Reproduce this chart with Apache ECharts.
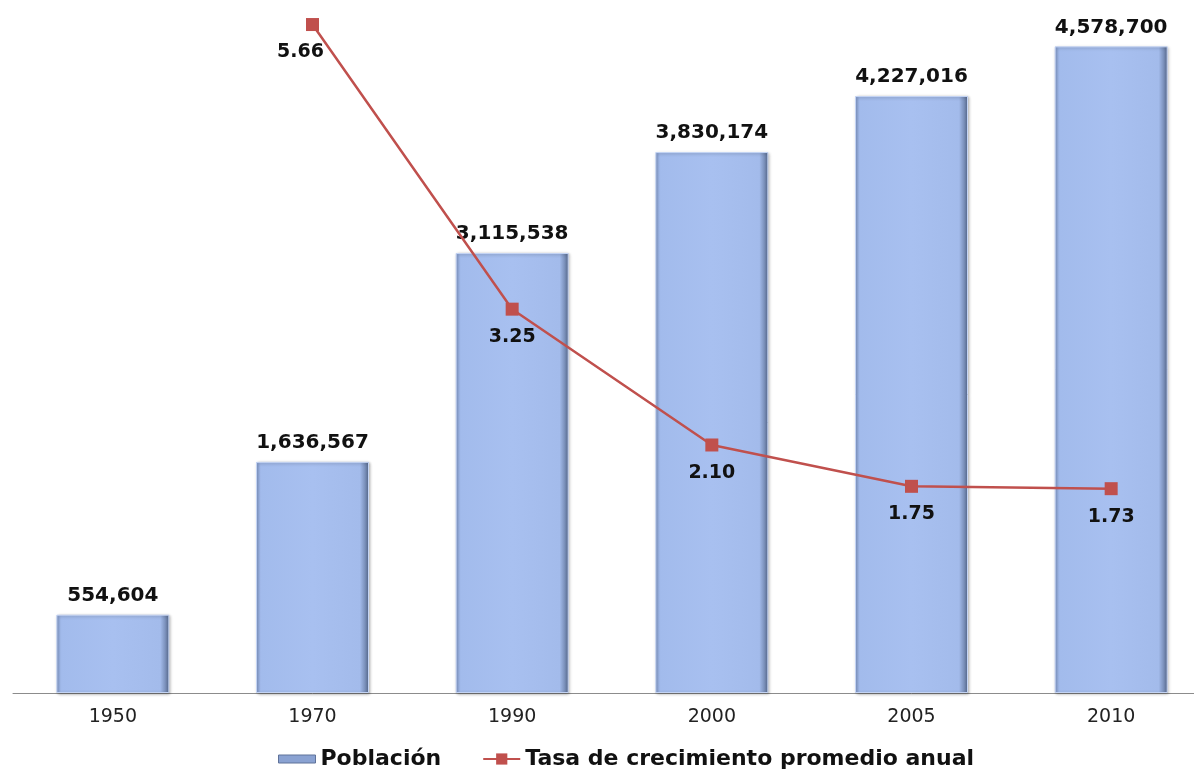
<!DOCTYPE html>
<html>
<head>
<meta charset="utf-8">
<script src="https://cdn.jsdelivr.net/npm/echarts@6/dist/echarts.min.js"></script>
<style>
  html, body { margin: 0; padding: 0; background: #fff; overflow: hidden; }
  /* el área de dibujo sobresale a la derecha, como en la figura original */
  #chart { width: 1211px; height: 770px; }
</style>
</head>
<body>
<div id="chart"></div>
<script>
// años del censo
const years = ["1950", "1970", "1990", "2000", "2005", "2010"];
// población total
const poblacion = [554604, 1636567, 3115538, 3830174, 4227016, 4578700];
// tasa de crecimiento promedio anual (sin dato para 1950)
const tasa = [null, 5.66, 3.25, 2.10, 1.75, 1.73];

const chart = echarts.init(document.getElementById("chart"));

// relleno de las barras con efecto bisel
const barColor = new echarts.graphic.LinearGradient(0, 0, 1, 0, [
  { offset: 0, color: "#8299c8" },
  { offset: 0.04, color: "#a2bbec" },
  { offset: 0.5, color: "#a8c0f0" },
  { offset: 0.92, color: "#a3bbeb" },
  { offset: 0.96, color: "#7f95c0" },
  { offset: 1, color: "#55678a" }
]);

const option = {
  animation: false,
  textStyle: { fontFamily: "DejaVu Sans, sans-serif" },
  grid: { left: 13, right: 0, top: 8, bottom: 77 },
  legend: {
    top: 743,
    left: 273,
    itemGap: 41,
    itemWidth: 37,
    itemHeight: 14,
    textStyle: { fontSize: 22, fontWeight: "bold", color: "#111" },
    data: [
      {
        name: "Población",
        // rectángulo delgado centrado en la caja de la leyenda
        icon: "path://M0,0 M0,3 L37,3 L37,11 L0,11 Z M0,14",
        itemStyle: { color: "#8aa2d2", borderColor: "#5f7299", borderWidth: 1 }
      },
      { name: "Tasa de crecimiento promedio anual" }
    ]
  },
  xAxis: {
    type: "category",
    data: years,
    boundaryGap: true,
    axisLine: { show: true, lineStyle: { color: "#8c8c8c", width: 1 } },
    axisTick: { show: false },
    axisLabel: { color: "#222", fontSize: 19, margin: 15 }
  },
  yAxis: [
    {
      type: "value",
      min: 0,
      max: 4850000,
      show: false,
      splitLine: { show: false }
    },
    {
      type: "value",
      min: 0,
      max: 5.8,
      show: false,
      splitLine: { show: false }
    }
  ],
  series: [
    {
      name: "Población",
      type: "bar",
      data: poblacion,
      barWidth: 113,
      itemStyle: {
        color: barColor,
        borderColor: "#c4d4f4",
        borderWidth: 1,
        shadowColor: "rgba(0,0,0,0.3)",
        shadowBlur: 3,
        shadowOffsetX: 1,
        shadowOffsetY: 1
      },
      label: {
        show: true,
        position: "top",
        distance: 9,
        fontSize: 20,
        fontWeight: "bold",
        color: "#111",
        formatter: p => p.value.toLocaleString("en-US")
      }
    },
    {
      name: "Tasa de crecimiento promedio anual",
      type: "line",
      yAxisIndex: 1,
      data: tasa.map((v, i) =>
        i === 1 ? { value: v, label: { offset: [-12, 0] } } : v
      ),
      symbol: "rect",
      symbolSize: 13,
      lineStyle: { color: "#c0504d", width: 2.5 },
      itemStyle: { color: "#c0504d" },
      label: {
        show: true,
        position: "bottom",
        distance: 12,
        fontSize: 19,
        fontWeight: "bold",
        color: "#111",
        formatter: p => p.value.toFixed(2)
      },
      z: 5
    }
  ]
};

chart.setOption(option);
</script>
</body>
</html>
